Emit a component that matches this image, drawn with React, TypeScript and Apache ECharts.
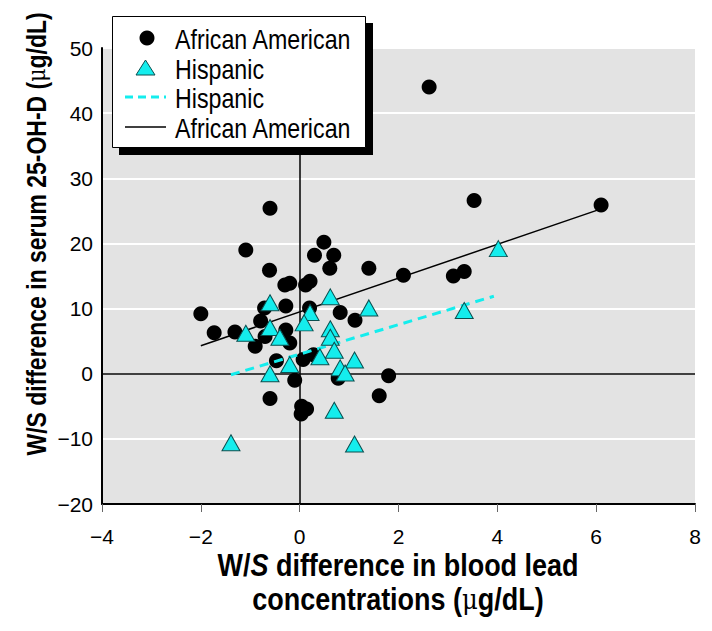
import React, { useEffect, useRef } from "react";
import * as echarts from "echarts";

// African American (circles): W/S difference in blood lead (x) vs serum 25-OH-D (y)
const aaX = [2.62, 3.53, 6.10, -0.60, -1.09, 0.49, 0.30, 0.69, -0.61, 0.61, 1.40, -0.30, -0.20, 0.12, 0.21, -0.28, -0.71, 0.20, 0.82, 1.12, -2.0, -0.79, -1.73, -1.31, -0.28, -0.70, -0.20, -0.90, -0.47, 0.07, 0.28, -0.10, 0.78, 1.80, 1.61, -0.60, 0.04, 0.14, 0.03, 2.10, 3.11, 3.33];
const aaY = [44.0, 26.6, 25.9, 25.4, 19.0, 20.2, 18.2, 18.2, 15.9, 16.2, 16.2, 13.6, 13.9, 13.6, 14.2, 10.4, 10.1, 10.1, 9.4, 8.2, 9.2, 8.1, 6.3, 6.4, 6.7, 5.7, 4.7, 4.2, 2.0, 2.2, 2.9, -1.0, -0.7, -0.3, -3.4, -3.8, -5.0, -5.4, -6.2, 15.1, 15.0, 15.7];

// Hispanic (triangles)
const hispX = [-0.60, 0.62, 1.40, 0.21, 0.09, -0.60, 0.62, -1.09, -0.40, 0.62, 0.70, 0.41, 1.11, -0.20, -0.60, 0.82, 0.92, 0.70, -1.39, 1.11, 4.02, 3.33];
const hispY = [10.9, 11.8, 10.1, 9.4, 7.8, 7.1, 6.9, 6.2, 5.6, 5.6, 3.6, 2.6, 2.1, 1.4, 0.0, 0.9, 0.1, -5.6, -10.6, -10.8, 19.2, 9.7];

// Regression lines (end points)
const aaLineX = [-2.0, 6.1];
const aaLineY = [4.3, 25.3];
const hispLineX = [-1.39, 3.93];
const hispLineY = [-0.15, 11.9];

// Axis ticks
const xTicks = [-4, -2, 0, 2, 4, 6, 8];
const yTicks = [-20, -10, 0, 10, 20, 30, 40, 50];

const legendLabels = ["African American", "Hispanic", "Hispanic", "African American"];

const SANS = "'Liberation Sans', Arial, Helvetica, sans-serif";
const CYAN = "#14eded";

const zip = (xs: number[], ys: number[]) => xs.map((x, i) => [x, ys[i]]);
const minus = (v: number) => (v < 0 ? "\u2212" + Math.abs(v) : String(v));

export default function App() {
  const ref = useRef<HTMLDivElement>(null);
  useEffect(() => {
    if (!ref.current) return;
    const chart = echarts.init(ref.current, undefined, { renderer: "svg" });
    const legendRowY = [38, 68, 97, 127];
    const option: any = {
      animation: false,
      backgroundColor: "#ffffff",
      grid: {
        left: 102,
        top: 48,
        width: 593,
        height: 456,
        show: true,
        backgroundColor: "#e3e3e3",
        borderWidth: 0,
      },
      xAxis: {
        type: "value",
        min: xTicks[0],
        max: xTicks[xTicks.length - 1],
        interval: 2,
        axisLine: { onZero: false, lineStyle: { color: "#000", width: 2 } },
        axisTick: { show: true, length: 8, lineStyle: { color: "#666", width: 1 } },
        splitLine: { show: false },
        axisLabel: {
          fontFamily: SANS,
          fontSize: 21,
          color: "#000",
          margin: 22,
          formatter: minus,
        },
      },
      yAxis: {
        type: "value",
        min: yTicks[0],
        max: yTicks[yTicks.length - 1],
        interval: 10,
        axisLine: { onZero: false, show: true, lineStyle: { color: "#000", width: 2 } },
        axisTick: { show: false },
        splitLine: { show: true, lineStyle: { color: "#ffffff", width: 2 } },
        axisLabel: {
          fontFamily: SANS,
          fontSize: 21,
          color: "#000",
          margin: 9,
          formatter: minus,
        },
      },
      series: [
        {
          type: "scatter",
          name: "African American",
          data: zip(aaX, aaY),
          symbol: "circle",
          symbolSize: 15,
          itemStyle: { color: "#000", opacity: 1 },
          z: 3,
          markLine: {
            silent: true,
            symbol: "none",
            label: { show: false },
            lineStyle: { color: "#000", width: 1.5, type: "solid" },
            data: [{ yAxis: 0 }, { xAxis: 0 }],
            z: 1,
          },
        },
        {
          type: "line",
          name: "Hispanic fit",
          data: zip(hispLineX, hispLineY),
          symbol: "none",
          lineStyle: { color: CYAN, width: 3, type: [9, 6] },
          z: 4,
        },
        {
          type: "line",
          name: "African American fit",
          data: zip(aaLineX, aaLineY),
          symbol: "none",
          lineStyle: { color: "#000", width: 1.5 },
          z: 4,
        },
        {
          type: "scatter",
          name: "Hispanic",
          data: zip(hispX, hispY),
          symbol: "triangle",
          symbolSize: [18, 16],
          itemStyle: { color: CYAN, borderColor: "#0c4f4f", borderWidth: 1, opacity: 1 },
          z: 5,
        },
      ],
      graphic: [
        // legend shadow & box
        { type: "rect", shape: { x: 119, y: 23, width: 254, height: 132 }, style: { fill: "#000" }, z: 100 },
        { type: "rect", shape: { x: 112.5, y: 16.5, width: 253, height: 131 }, style: { fill: "#fff", stroke: "#000", lineWidth: 1 }, z: 101 },
        { type: "circle", shape: { cx: 147, cy: legendRowY[0], r: 7.5 }, style: { fill: "#000" }, z: 102 },
        {
          type: "polygon",
          shape: { points: [[145.5, legendRowY[1] - 8], [136, legendRowY[1] + 7], [155, legendRowY[1] + 7]] },
          style: { fill: CYAN, stroke: "#0c4f4f", lineWidth: 1 },
          z: 102,
        },
        {
          type: "line",
          shape: { x1: 125, y1: legendRowY[2], x2: 166, y2: legendRowY[2] },
          style: { stroke: CYAN, lineWidth: 3, lineDash: [8, 5] },
          z: 102,
        },
        {
          type: "line",
          shape: { x1: 125, y1: legendRowY[3], x2: 166, y2: legendRowY[3] },
          style: { stroke: "#000", lineWidth: 1.5 },
          z: 102,
        },
        ...legendLabels.map((t, i) => ({
          type: "text",
          x: 175,
          y: legendRowY[i] + 1,
          scaleX: 0.86,
          style: {
            text: t,
            fontFamily: SANS,
            fontSize: 27,
            fill: "#000",
            textAlign: "left",
            textVerticalAlign: "middle",
          },
          z: 102,
        })),
        // y-axis title
        {
          type: "text",
          x: 36,
          y: 234,
          rotation: Math.PI / 2,
          scaleX: 0.82,
          style: {
            text: "{b|W/S difference in serum 25-OH-D (}{m|\u03bc}{b|g/dL)}",
            textAlign: "center",
            textVerticalAlign: "middle",
            rich: {
              b: { fontFamily: SANS, fontSize: 28, fontWeight: "bold", fill: "#000", color: "#000" },
              m: { fontFamily: "'DejaVu Serif', serif", fontSize: 25, fontWeight: "normal", fill: "#000", color: "#000" },
            },
          },
        },
        // x-axis title
        {
          type: "text",
          x: 398,
          y: 565,
          scaleX: 0.87,
          style: {
            text: "{b|W/}{i|S}{b| difference in blood lead}",
            textAlign: "center",
            textVerticalAlign: "middle",
            rich: {
              b: { fontFamily: SANS, fontSize: 31, fontWeight: "bold", fill: "#000", color: "#000" },
              i: { fontFamily: SANS, fontSize: 31, fontWeight: "bold", fontStyle: "italic", fill: "#000", color: "#000" },
            },
          },
        },
        {
          type: "text",
          x: 398,
          y: 599,
          scaleX: 0.87,
          style: {
            text: "{b|concentrations (}{m|\u03bc}{b|g/dL)}",
            textAlign: "center",
            textVerticalAlign: "middle",
            rich: {
              b: { fontFamily: SANS, fontSize: 31, fontWeight: "bold", fill: "#000", color: "#000" },
              m: { fontFamily: "'DejaVu Serif', serif", fontSize: 28, fontWeight: "normal", fill: "#000", color: "#000" },
            },
          },
        },
      ],
    };
    chart.setOption(option);
    return () => chart.dispose();
  }, []);
  return <div ref={ref} style={{ width: 712, height: 631, margin: -8 }} />;
}
